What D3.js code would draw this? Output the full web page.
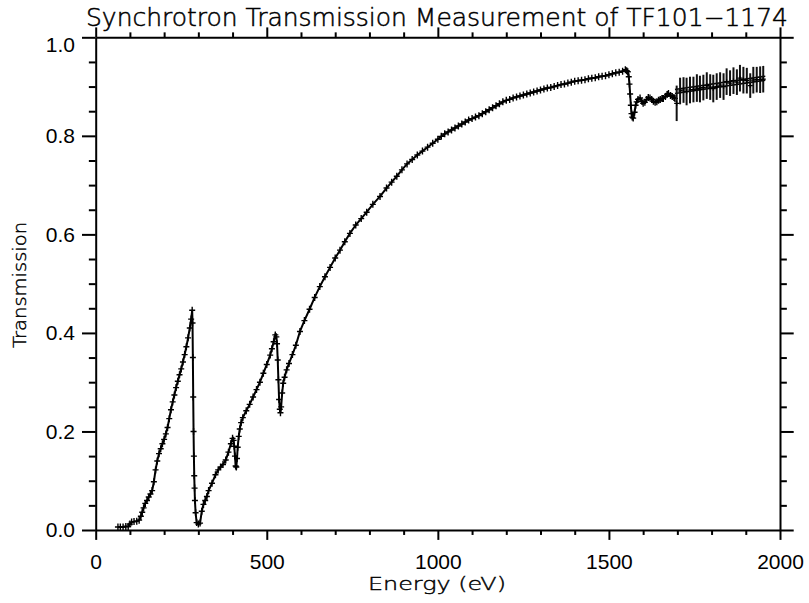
<!DOCTYPE html>
<html>
<head>
<meta charset="utf-8">
<script src="https://cdn.jsdelivr.net/npm/d3@7"></script>
<style>
  html, body { margin: 0; padding: 0; background: #fff; }
  svg { display: block; }
</style>
</head>
<body>
<svg id="chart" width="809" height="603"></svg>
<script>
// ---------------- data ----------------
const titleText = "Synchrotron Transmission Measurement of TF101\u22121174";
const xTitle = "Energy (eV)";
const yTitle = "Transmission";
const xMajorTicks = [0, 500, 1000, 1500, 2000];
const xMinorTicks = [100,200,300,400,600,700,800,900,1100,1200,1300,1400,1600,1700,1800,1900];
const yMajorTicks = [0.0, 0.2, 0.4, 0.6, 0.8, 1.0];
const yMinorTicks = [0.05,0.1,0.15,0.25,0.3,0.35,0.45,0.5,0.55,0.65,0.7,0.75,0.85,0.9,0.95];

// measured spectrum (energy in eV, transmission)
const energy = [
  65,72,80,88,95,100,105,112,120,127,132,136,140,145,150,155,160,165,170,175,
  180,185,190,195,200,205,210,215,220,225,230,235,240,245,250,255,260,265,270,275,
  279,282,283,284,285,286,287,288,289,290,292,295,300,305,310,315,320,325,330,340,
  350,358,365,372,380,388,395,400,403,405,407,409,411,413,415,418,421,425,430,440,
  450,460,470,480,490,500,510,515,520,525,528,530,532,534,536,538,540,542,545,548,
  552,558,565,575,585,597,610,625,640,655,670,685,700,714,728,743,760,776,792,810,
  831,850,865,880,895,910,925,940,955,970,985,1000,1010,1020,1030,1040,1050,1060,1070,1080,
  1090,1100,1110,1120,1130,1140,1150,1160,1170,1180,1190,1200,1210,1220,1230,1240,1250,1260,1270,1280,
  1290,1300,1310,1320,1330,1340,1350,1360,1370,1380,1390,1400,1410,1420,1430,1440,1450,1460,1470,1480,
  1490,1500,1510,1520,1530,1540,1548,1552,1555,1558,1560,1562,1564,1566,1568,1571,1575,1578,1581,1585,
  1591,1596,1600,1605,1610,1615,1620,1625,1630,1635,1640,1645,1650,1655,1659,1665,1670,1674,1680,1685,
  1690,1693
];
const transmission = [
  0.006,0.006,0.006,0.007,0.007,0.012,0.016,0.017,0.018,0.020,0.028,0.036,0.045,0.054,0.060,0.067,0.073,0.080,0.098,0.122,
  0.140,0.155,0.165,0.175,0.184,0.195,0.208,0.226,0.244,0.260,0.274,0.289,0.302,0.315,0.327,0.341,0.356,0.372,0.390,0.410,
  0.428,0.446,0.420,0.350,0.270,0.200,0.150,0.110,0.085,0.060,0.035,0.015,0.012,0.014,0.038,0.052,0.060,0.068,0.080,0.095,
  0.112,0.122,0.128,0.133,0.142,0.158,0.175,0.186,0.182,0.170,0.150,0.130,0.128,0.145,0.168,0.190,0.205,0.218,0.228,0.242,
  0.255,0.270,0.285,0.300,0.318,0.336,0.355,0.368,0.382,0.396,0.392,0.378,0.345,0.305,0.265,0.245,0.238,0.250,0.278,0.298,
  0.310,0.325,0.338,0.356,0.375,0.403,0.425,0.448,0.472,0.494,0.514,0.533,0.552,0.568,0.585,0.602,0.619,0.632,0.645,0.661,
  0.677,0.694,0.706,0.718,0.731,0.743,0.752,0.761,0.769,0.777,0.785,0.793,0.799,0.804,0.808,0.812,0.816,0.820,0.824,0.828,
  0.832,0.835,0.838,0.841,0.845,0.849,0.853,0.857,0.861,0.865,0.869,0.872,0.874,0.877,0.879,0.881,0.883,0.885,0.887,0.889,
  0.891,0.893,0.895,0.897,0.898,0.900,0.902,0.904,0.905,0.907,0.909,0.911,0.912,0.913,0.914,0.916,0.917,0.918,0.920,0.921,
  0.922,0.924,0.926,0.928,0.929,0.931,0.934,0.932,0.930,0.920,0.905,0.885,0.862,0.845,0.838,0.836,0.848,0.862,0.869,0.874,
  0.877,0.870,0.866,0.868,0.874,0.878,0.877,0.874,0.870,0.868,0.869,0.872,0.874,0.876,0.876,0.880,0.884,0.886,0.882,0.880,
  0.878,0.876
];

// high-energy points with error bars
const tailEnergy = [1698,1708,1718,1727,1737,1747,1757,1766,1776,1786,1796,1805,1815,1825,1835,1844,1854,1864,1874,1883,1893,1903,1913,1922,1932,1942,1951];
const tailTransmission = [0.866,0.891,0.893,0.890,0.893,0.894,0.897,0.895,0.898,0.902,0.899,0.896,0.900,0.903,0.900,0.910,0.907,0.912,0.909,0.917,0.913,0.912,0.902,0.913,0.914,0.914,0.915];
const tailError = [0.036,0.027,0.026,0.028,0.027,0.026,0.028,0.027,0.026,0.027,0.026,0.028,0.027,0.026,0.027,0.027,0.026,0.027,0.026,0.027,0.027,0.026,0.025,0.027,0.026,0.027,0.027];

// two straight trend lines over the high-energy region
const trendEnergy = [1693, 1957];
const trendUpper = [0.894, 0.921];
const trendLower = [0.886, 0.913];

// ---------------- chart ----------------
const svg = d3.select("#chart");
const X0 = 95.7, X1 = 780, Y0 = 530, Y1 = 37.3;
const x = d3.scaleLinear().domain([0, 2000]).range([X0, X1]);
const y = d3.scaleLinear().domain([0, 1]).range([Y0, Y1]);

const tickFont = "'Liberation Sans', Arial, Helvetica, sans-serif";
const labelFont = "'DejaVu Sans', 'Noto Sans', sans-serif";
const majX = 9.9, majY = 13.7;

function styleAxis(g) {
  g.selectAll("path.domain").attr("stroke", "#000").attr("stroke-width", 2);
  g.selectAll(".tick line").attr("stroke", "#000").attr("stroke-width", 2);
  g.selectAll(".tick text").attr("fill", "#000").style("font-family", tickFont).style("font-size", "21px");
}

// bottom
svg.append("g").attr("transform", `translate(0,${Y0})`)
  .call(d3.axisBottom(x).tickValues(xMajorTicks).tickSize(majX).tickSizeOuter(0).tickPadding(14).tickFormat(d3.format("d")))
  .call(styleAxis);
svg.append("g").attr("transform", `translate(0,${Y0})`)
  .call(d3.axisBottom(x).tickValues(xMinorTicks).tickSize(majX / 2).tickFormat(""))
  .call(g => g.select("path.domain").remove()).call(styleAxis);
// top
svg.append("g").attr("transform", `translate(0,${Y1})`)
  .call(d3.axisTop(x).tickValues(xMajorTicks).tickSize(majX).tickSizeOuter(0).tickFormat(""))
  .call(styleAxis);
svg.append("g").attr("transform", `translate(0,${Y1})`)
  .call(d3.axisTop(x).tickValues(xMinorTicks).tickSize(majX / 2).tickFormat(""))
  .call(g => g.select("path.domain").remove()).call(styleAxis);
// left
const leftAxis = svg.append("g").attr("transform", `translate(${X0},0)`)
  .call(d3.axisLeft(y).tickValues(yMajorTicks).tickSize(majY).tickSizeOuter(0).tickPadding(7).tickFormat(d3.format(".1f")))
  .call(styleAxis);
leftAxis.selectAll(".tick").filter(d => d === 1).select("text").attr("dy", "0.66em");
svg.append("g").attr("transform", `translate(${X0},0)`)
  .call(d3.axisLeft(y).tickValues(yMinorTicks).tickSize(majY / 2).tickFormat(""))
  .call(g => g.select("path.domain").remove()).call(styleAxis);
// right
svg.append("g").attr("transform", `translate(${X1},0)`)
  .call(d3.axisRight(y).tickValues(yMajorTicks).tickSize(majY).tickSizeOuter(0).tickFormat(""))
  .call(styleAxis);
svg.append("g").attr("transform", `translate(${X1},0)`)
  .call(d3.axisRight(y).tickValues(yMinorTicks).tickSize(majY / 2).tickFormat(""))
  .call(g => g.select("path.domain").remove()).call(styleAxis);

// titles
svg.append("text").attr("x", 437).attr("y", 26).attr("text-anchor", "middle")
  .attr("textLength", 702).attr("lengthAdjust", "spacingAndGlyphs")
  .style("font-family", labelFont).style("font-size", "24px").style("font-weight", 300)
  .attr("fill", "#000").attr("stroke", "#000").attr("stroke-width", 0.5).text(titleText);
svg.append("text").attr("x", 437).attr("y", 590).attr("text-anchor", "middle")
  .attr("textLength", 138).attr("lengthAdjust", "spacingAndGlyphs")
  .style("font-family", labelFont).style("font-size", "18px").style("font-weight", 300)
  .attr("fill", "#000").attr("stroke", "#000").attr("stroke-width", 0.4).text(xTitle);
svg.append("text").attr("transform", "translate(26,285) rotate(-90)").attr("text-anchor", "middle")
  .attr("textLength", 126).attr("lengthAdjust", "spacingAndGlyphs")
  .style("font-family", labelFont).style("font-size", "17px").style("font-weight", 300)
  .attr("fill", "#000").attr("stroke", "#000").attr("stroke-width", 0.4).text(yTitle);

// data
const pts = energy.map((e, i) => ({ e, t: transmission[i] }));
const line = d3.line().x(d => x(d.e)).y(d => y(d.t));
const plot = svg.append("g");

plot.append("path").datum(pts).attr("d", line)
  .attr("fill", "none").attr("stroke", "#000").attr("stroke-width", 2);

const plus = (px, py, hw, hh) => `M${px - hw},${py}H${px + hw}M${px},${py - hh}V${py + hh}`;
plot.append("path")
  .attr("d", pts.map(d => plus(x(d.e), y(d.t), 3, 3.5)).join(""))
  .attr("stroke", "#000").attr("stroke-width", 1.4).attr("fill", "none");

// trend lines
[trendUpper, trendLower].forEach(arr => {
  plot.append("path").datum(trendEnergy.map((e, i) => ({ e, t: arr[i] }))).attr("d", line)
    .attr("fill", "none").attr("stroke", "#000").attr("stroke-width", 1.6);
});

// tail error bars and markers
const tail = tailEnergy.map((e, i) => ({ e, t: tailTransmission[i], s: tailError[i] }));
plot.selectAll("line.err").data(tail).join("line").attr("class", "err")
  .attr("x1", d => x(d.e)).attr("x2", d => x(d.e))
  .attr("y1", d => y(d.t - d.s)).attr("y2", d => y(d.t + d.s))
  .attr("stroke", "#111").attr("stroke-width", 2);
plot.append("path")
  .attr("d", tail.map(d => plus(x(d.e), y(d.t), 2.5, 2.5)).join(""))
  .attr("stroke", "#000").attr("stroke-width", 1.2).attr("fill", "none");
</script>
</body>
</html>
